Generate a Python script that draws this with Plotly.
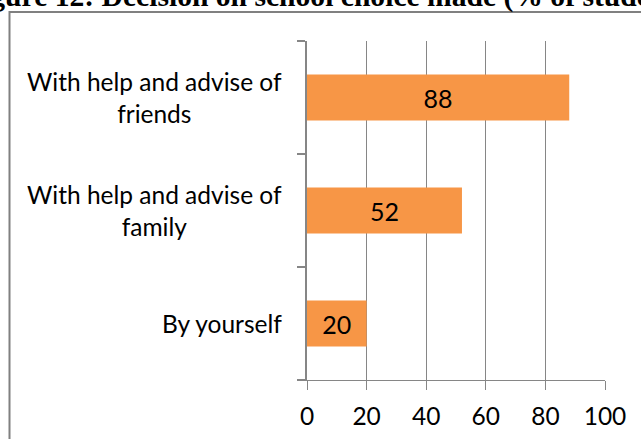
import plotly.graph_objects as go

# Survey answers, bottom to top as they appear on the axis
categories = ["By yourself", "With help and advise of family", "With help and advise of friends"]
category_labels = ["By yourself", "With help and advise of<br>family", "With help and advise of<br>friends"]
percent = [20, 52, 88]
x_ticks = [0, 20, 40, 60, 80, 100]
title_text = "Figure 12: Decision on school choice made (% of students)"

W, H = 641, 439
LABEL_FONT = "Lato"
GRID = "#868686"
FRAME = "#808080"
BAR = "#F79646"


def px_x(p):
    return p / W


def px_y(p):
    return (H - p) / H


fig = go.Figure()
fig.add_trace(go.Bar(
    x=percent,
    y=categories,
    orientation="h",
    width=0.405,
    marker=dict(color=BAR, line=dict(width=0)),
    text=[str(v) for v in percent],
    textposition="inside",
    insidetextanchor="middle",
    textangle=0,
    textfont=dict(family=LABEL_FONT, size=25, color="#000000"),
    hoverinfo="skip",
))

# Category labels as centred blocks to the left of the axis
annotations = []
for cat, lab in zip(categories, category_labels):
    annotations.append(dict(
        text=lab, x=px_x(284), xref="paper", xanchor="right",
        y=cat, yref="y", yanchor="middle", align="center", showarrow=False,
        font=dict(family=LABEL_FONT, size=24.5, color="#000000"),
    ))

# Figure caption sitting above the chart frame, running off the page
annotations.append(dict(
    text="<b>" + title_text + "</b>", x=px_x(-38), xref="paper", xanchor="left",
    y=px_y(15), yref="paper", yanchor="bottom", showarrow=False,
    font=dict(family="Liberation Serif", size=29.6, color="#000000"),
))

fig.update_layout(
    width=W, height=H,
    margin=dict(l=0, r=0, t=0, b=0),
    paper_bgcolor="#ffffff", plot_bgcolor="#ffffff",
    showlegend=False,
    annotations=annotations,
    shapes=[dict(
        type="rect", xref="paper", yref="paper",
        x0=px_x(9.5), x1=px_x(700), y0=px_y(500), y1=px_y(12),
        line=dict(color=FRAME, width=2), fillcolor="rgba(0,0,0,0)", layer="below",
    )],
    xaxis=dict(
        domain=[px_x(307), px_x(605)], range=[0, 100],
        tickvals=x_ticks, ticktext=[str(t) for t in x_ticks],
        showgrid=True, gridcolor=GRID, gridwidth=1,
        showline=True, linecolor=GRID, linewidth=1,
        ticks="outside", ticklen=9, tickcolor=GRID, tickwidth=1,
        ticklabelstandoff=6,
        tickfont=dict(family=LABEL_FONT, size=24.5, color="#000000"),
        zeroline=False, fixedrange=True, automargin=False,
    ),
    yaxis=dict(
        domain=[px_y(380), px_y(41)],
        categoryorder="array", categoryarray=categories,
        range=[-0.5, 2.5],
        showticklabels=False, showgrid=False, zeroline=False,
        showline=True, linecolor=GRID, linewidth=2,
        ticks="outside", tickson="boundaries", ticklen=8, tickcolor=GRID, tickwidth=2,
        fixedrange=True, automargin=False,
    ),
)

fig.write_html(
    "out.html",
    config={"responsive": False, "displayModeBar": False},
    post_script="document.body.style.margin='0';document.body.style.overflow='hidden';",
)
